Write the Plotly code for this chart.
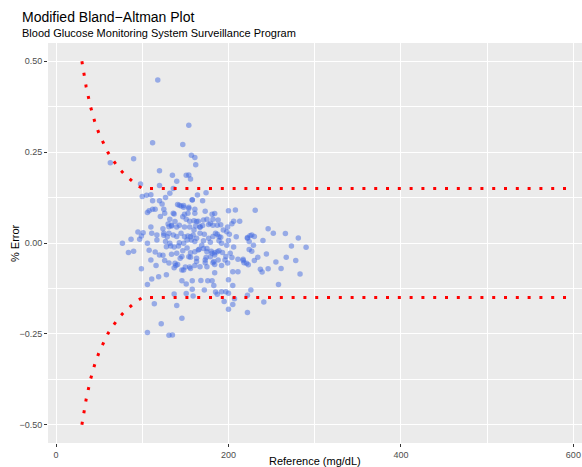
import plotly.graph_objects as go

# ---- data ----
ref_mgdl = [154,112,147,90,157,161,162,63,120,135,151,154,156,140,98,120,100,105,110,127,
            132,136,158,164,170,174,112,120,123,141,145,148,154,112,108,106,115,125,126,149,
            153,161,173,181,184,200,208,231,121,137,147,151,155,160,165,175,182,188,206,213,
            204,110,124,130,134,140,143,149,155,162,167,170,177,182,191,199,138,132,246,95,
            101,99,97,87,111,117,125,131,136,140,145,149,153,159,163,167,172,177,182,187,
            191,198,201,209,222,227,230,240,252,266,281,77,106,117,127,143,157,171,179,189,
            200,206,84,90,108,115,120,124,128,133,137,142,147,152,156,161,166,171,175,180,
            184,189,193,197,204,211,217,224,227,234,244,273,290,134,146,156,163,174,184,188,
            116,110,126,131,139,141,146,150,155,161,167,173,182,184,192,199,205,211,221,230,
            237,239,255,261,267,278,283,99,119,128,137,184,106,111,146,151,158,168,176,181,
            183,200,205,158,172,185,137,151,187,192,197,200,222,226,258,159,195,205,207,241,
            114,140,200,222,146,122,106,131,135,118,222,225,224,229,246,218,223,217,
            158,154,148,143,136,134,131,163,167,160,156,152,148,161,169,175,165,181,187,179,
            173,154,144,138,163,185,189,192,198,202,196,183,175,156,148,140,132,129,125,161,
            171,179,187,194]
pct_error = [0.324,0.276,0.271,0.232,0.241,0.235,0.215,0.221,0.199,0.186,0.186,0.187,0.176,0.170,0.162,0.158,0.128,0.131,0.133,0.125,
             0.137,0.150,0.119,0.132,0.116,0.138,0.116,0.116,0.107,0.106,0.102,0.098,0.098,0.093,0.089,0.084,0.093,0.093,0.082,0.079,
             0.082,0.093,0.087,0.079,0.081,0.089,0.091,0.090,0.073,0.080,0.072,0.065,0.060,0.061,0.060,0.065,0.065,0.063,0.060,0.060,
             0.053,0.044,0.039,0.052,0.047,0.044,0.049,0.044,0.044,0.047,0.043,0.048,0.051,0.049,0.050,0.044,0.059,0.065,0.039,0.030,
             0.028,0.019,0.010,0.010,0.027,0.022,0.021,0.027,0.022,0.018,0.027,0.017,0.019,0.022,0.013,0.027,0.024,0.013,0.018,0.024,
             0.016,0.031,0.024,0.017,0.015,0.022,0.018,0.007,0.027,0.026,0.014,-0.001,-0.001,0.008,0.004,0.001,0.008,0.006,0.002,0.006,
             0.007,-0.011,-0.026,-0.023,-0.020,-0.025,-0.033,-0.034,-0.010,-0.008,-0.011,-0.008,-0.021,-0.014,-0.027,-0.024,-0.017,-0.015,-0.024,-0.023,
             -0.027,-0.021,-0.026,-0.037,-0.040,-0.045,-0.048,-0.018,-0.023,-0.039,-0.030,-0.008,-0.012,-0.031,-0.037,-0.039,-0.042,-0.040,-0.033,-0.047,
             -0.062,-0.047,-0.048,-0.055,-0.062,-0.059,-0.074,-0.066,-0.066,-0.062,-0.065,-0.054,-0.054,-0.059,-0.062,-0.055,-0.079,-0.079,-0.056,-0.048,
             -0.072,-0.080,-0.052,-0.070,-0.039,-0.048,-0.085,-0.071,-0.093,-0.087,-0.068,-0.082,-0.114,-0.099,-0.104,-0.113,-0.104,-0.103,-0.104,-0.104,
             -0.117,-0.101,-0.117,-0.127,-0.129,-0.135,-0.140,-0.139,-0.141,-0.134,-0.134,-0.138,-0.144,-0.129,-0.114,-0.146,-0.161,-0.169,-0.153,-0.162,
             -0.167,-0.172,-0.182,-0.191,-0.207,-0.222,-0.246,-0.254,-0.253,0.448,0.013,0.020,0.004,-0.006,-0.071,-0.054,-0.060,-0.045,
             0.118,0.095,0.103,0.104,0.082,0.049,0.045,0.059,0.045,0.036,0.017,0.008,-0.001,0.004,-0.006,-0.015,-0.019,-0.028,-0.024,-0.038,
             -0.047,-0.038,-0.042,-0.056,-0.051,0.027,0.017,-0.001,-0.006,-0.028,-0.047,-0.051,-0.065,-0.070,-0.074,-0.028,-0.001,0.017,0.027,0.082,
             0.063,0.054,0.049,0.036]

limit_x = [30, 35, 40, 45, 50, 55, 60, 65, 70, 75, 80, 85, 90, 95, 100, 600]
limit_upper = [0.500, 0.429, 0.375, 0.333, 0.300, 0.273, 0.250, 0.231, 0.214, 0.200,
               0.1875, 0.176, 0.167, 0.158, 0.150, 0.150]
limit_lower = [-v for v in limit_upper]

x_ticks = [0, 200, 400, 600]
y_ticks = [-0.50, -0.25, 0.00, 0.25, 0.50]

title_text = "Modified Bland\u2212Altman Plot"
subtitle_text = "Blood Glucose Monitoring System Surveillance Program"
x_title = "Reference (mg/dL)"
y_title = "% Error"

FONT = "Liberation Sans, Arial, sans-serif"

fig = go.Figure()
fig.add_trace(go.Scatter(
    x=ref_mgdl, y=pct_error, mode="markers",
    marker=dict(color="rgba(65,105,225,0.5)", size=5.5, line=dict(width=0)),
    hoverinfo="skip", showlegend=False))
for ys in (limit_upper, limit_lower):
    fig.add_trace(go.Scatter(
        x=limit_x, y=ys, mode="lines",
        line=dict(color="#FF0000", width=3, dash="3px,8.8px"),
        hoverinfo="skip", showlegend=False))

axis_common = dict(
    showgrid=True, gridcolor="white", gridwidth=1.1, zeroline=False,
    ticks="outside", ticklen=3, tickwidth=1, tickcolor="#333333",
    tickfont=dict(family=FONT, size=9, color="#4D4D4D"),
    showline=False, automargin=False,
)
fig.update_xaxes(range=[-9.3, 610], tickvals=x_ticks, ticktext=[str(v) for v in x_ticks],
                 minor=dict(dtick=100, tick0=0, showgrid=True, gridcolor="white", gridwidth=0.5, ticks=""),
                 **axis_common)
fig.update_yaxes(range=[-0.55, 0.55], tickvals=y_ticks,
                 ticktext=[("\u2212" if v < 0 else "") + f"{abs(v):.2f}" for v in y_ticks],
                 minor=dict(dtick=0.125, tick0=0, showgrid=True, gridcolor="white", gridwidth=0.5, ticks=""),
                 **axis_common)

fig.update_layout(
    width=582, height=467,
    margin=dict(l=48, r=0, t=43, b=24),
    paper_bgcolor="white", plot_bgcolor="#EBEBEB",
    font=dict(family=FONT, color="black"),
    annotations=[
        dict(text=title_text, xref="paper", yref="paper", x=(20 - 48) / 534, y=(443 - 17) / 400,
             xanchor="left", yanchor="middle", showarrow=False, font=dict(size=14, color="black", family=FONT)),
        dict(text=subtitle_text, xref="paper", yref="paper", x=(20 - 48) / 534, y=(443 - 33) / 400,
             xanchor="left", yanchor="middle", showarrow=False, font=dict(size=11, color="black", family=FONT)),
        dict(text=x_title, xref="paper", yref="paper", x=0.5, y=(443 - 461) / 400,
             xanchor="center", yanchor="middle", showarrow=False, font=dict(size=11, color="black", family=FONT)),
        dict(text=y_title, xref="paper", yref="paper", x=(15 - 48) / 534, y=0.5, textangle=-90,
             xanchor="center", yanchor="middle", showarrow=False, font=dict(size=11, color="black", family=FONT)),
    ],
)

fig.write_html("out.html")
